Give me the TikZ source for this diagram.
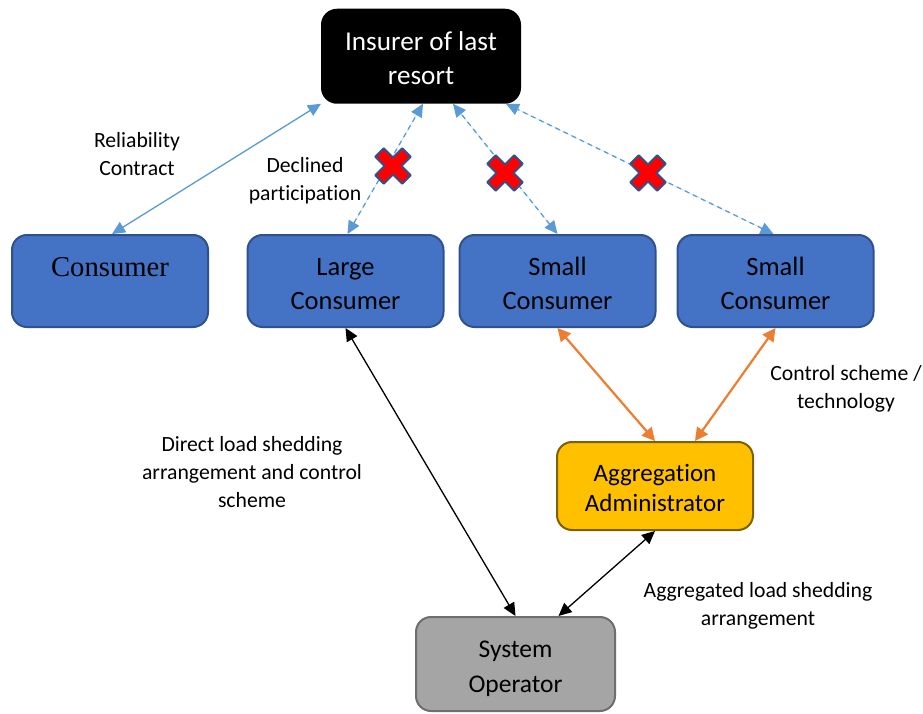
\documentclass[tikz,border=0pt]{standalone}
\usepackage{fontspec}
\setmainfont{Carlito}[Ligatures=NoCommon]
\newfontfamily\serifconsumer{Liberation Serif}
\usetikzlibrary{arrows.meta}
\definecolor{boxblue}{HTML}{4472C4}
\definecolor{boxblueedge}{HTML}{2F528F}
\definecolor{aggfill}{HTML}{FFC000}
\definecolor{aggedge}{HTML}{7F6000}
\definecolor{sofill}{HTML}{A5A5A5}
\definecolor{soedge}{HTML}{6E6E6E}
\definecolor{linkblue}{HTML}{5B9BD5}
\definecolor{linkorange}{HTML}{ED7D31}
\newcommand{\boxtext}[2]{\raisebox{-#1}[\height][\depth]{\begin{tabular}{@{}c@{}}#2\end{tabular}}}
\tikzset{
  box/.style={draw, line width=2pt, rounded corners=15pt, minimum width=196pt, minimum height=92pt, inner sep=0pt, align=center, text=black, font=\fontsize{26.5}{34}\selectfont},
  bluebox/.style={box, fill=boxblue, draw=boxblueedge},
  lbl/.style={align=center, text=black, inner sep=0pt, font=\fontsize{21.7}{27.7}\selectfont},
  tipA/.style={{Triangle[length=13pt,width=12pt]}-{Triangle[length=13pt,width=12pt]}},
  bluelink/.style={draw=linkblue, line width=1.3pt, tipA, fill=linkblue},
  dashlink/.style={draw=linkblue, line width=1.3pt, dash pattern=on 5pt off 4pt, tipA, fill=linkblue},
  blacklink/.style={draw=black, line width=1.3pt, tipA, fill=black},
  orangelink/.style={draw=linkorange, line width=2.2pt, {Triangle[length=13pt,width=13pt]}-{Triangle[length=13pt,width=13pt]}, fill=linkorange},
  xmarkstyle/.style={fill=red, draw=boxblueedge, line width=2pt, line join=round}
}
\newcommand{\crossmark}[2]{%
  \path[xmarkstyle, shift={(#1,#2)}, rotate=45]
    (6,6) -- (6,19) -- (-6,19) -- (-6,6) -- (-19,6) -- (-19,-6) -- (-6,-6) -- (-6,-19) -- (6,-19) -- (6,-6) -- (19,-6) -- (19,6) -- cycle;}
\begin{document}
\begin{tikzpicture}[x=1pt, y=-1pt]
\clip (0,0) rectangle (923,714);
\fill[white] (0,0) rectangle (923,714);

\node[box, fill=black, draw=black, text=white, minimum width=198pt, minimum height=93pt, font=\fontsize{27.2}{34}\selectfont] (ins) at (421,56.25) {\boxtext{4.5pt}{Insurer of last\\resort}};
\node[bluebox] (cons) at (110,281) {\serifconsumer\fontsize{28.7}{34}\selectfont\boxtext{6pt}{Consumer\\\strut}};
\node[bluebox] (lc) at (345.5,281) {\boxtext{4.5pt}{Large\\Consumer}};
\node[bluebox] (sc1) at (557.5,281) {\boxtext{4.5pt}{Small\\Consumer}};
\node[bluebox] (sc2) at (775.5,281) {\boxtext{4.5pt}{Small\\Consumer}};
\node[box, fill=aggfill, draw=aggedge, minimum height=88pt, font=\fontsize{25}{30}\selectfont] (agg) at (655,486) {\boxtext{4pt}{Aggregation\\Administrator}};
\node[box, fill=sofill, draw=soedge, minimum width=199pt, minimum height=94pt, font=\fontsize{25.5}{35}\selectfont] (so) at (515.5,664) {\boxtext{4pt}{System\\Operator}};

% connectors
\draw[bluelink] ([xshift=2pt]cons.north) -- (ins.south west);
\draw[dashlink] ([xshift=2pt]lc.north) -- ([xshift=2pt]ins.south);
\draw[dashlink] (sc1.north) -- ([xshift=32pt]ins.south);
\draw[dashlink] ([xshift=-2pt]sc2.north) -- ([xshift=85pt]ins.south);
\draw[blacklink] (lc.south) -- (so.north);
\draw[orangelink] (sc1.south) -- (agg.north);
\draw[orangelink] (sc2.south) -- ([xshift=40pt]agg.north);
\draw[blacklink] (agg.south) -- ([xshift=43pt]so.north);

% declined marks
\crossmark{393}{166}
\crossmark{505}{173}
\crossmark{648}{173}

% labels
\node[lbl] (l1) at (137,154) {Reliability\\Contract};
\node[lbl] (l2) at (305,180.5) {Declined\\participation};
\node[lbl] (l3) at (846,389) {Control scheme /\\technology};
\node[lbl] (l4) at (252,472) {Direct load shedding\\arrangement and control\\scheme};
\node[lbl] (l5) at (758,606) {Aggregated load shedding\\arrangement};
\end{tikzpicture}
\end{document}
